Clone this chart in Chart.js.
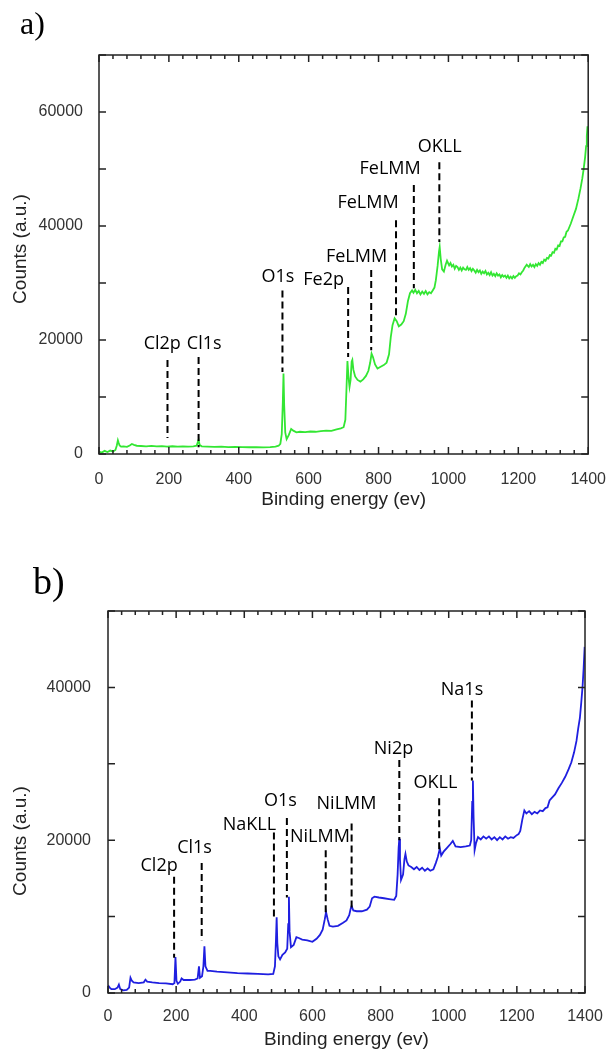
<!DOCTYPE html>
<html>
<head>
<meta charset="utf-8">
<script src="https://cdn.jsdelivr.net/npm/chart.js@4.4.0/dist/chart.umd.min.js"></script>
<style>
  html, body { margin: 0; padding: 0; background: #fff; }
  #wrap { width: 614px; height: 1054px; }
  canvas { display: block; }
</style>
</head>
<body>
<div id="wrap">
  <canvas id="chartA" width="614" height="530"></canvas>
  <canvas id="chartB" width="614" height="524"></canvas>
</div>
<script>
// ===== Spectrum a) =====
const energyA = [
  0, 8, 16, 24, 32, 40, 47, 51, 54, 56,
  59, 63, 70, 80, 88, 94, 100, 108, 120, 135,
  150, 165, 180, 195, 210, 225, 240, 255, 270, 279,
  282, 285, 288, 294, 310, 330, 350, 370, 390, 410,
  430, 450, 470, 490, 505, 514, 519, 523, 526, 528,
  530, 533, 537, 543, 550, 556, 565, 575, 590, 605,
  620, 635, 650, 665, 680, 692, 700, 705, 708, 711,
  714, 717, 720, 723, 725, 728, 733, 740, 748, 756,
  764, 771, 776, 780, 784, 790, 797, 806, 815, 823,
  830, 835, 840, 846, 852, 858, 865, 872, 878, 884,
  890, 896, 900, 905, 910, 915, 920, 925, 930, 935,
  940, 945, 950, 955, 960, 964, 969, 973, 975, 978,
  982, 987, 992, 996, 1002, 1006, 1010, 1014, 1018, 1022,
  1026, 1030, 1034, 1038, 1042, 1046, 1050, 1054, 1058, 1062,
  1066, 1070, 1074, 1078, 1082, 1086, 1090, 1094, 1098, 1102,
  1106, 1110, 1114, 1118, 1122, 1126, 1130, 1134, 1138, 1142,
  1146, 1150, 1154, 1158, 1162, 1166, 1170, 1174, 1178, 1182,
  1186, 1190, 1194, 1198, 1202, 1206, 1210, 1214, 1218, 1224,
  1230, 1234, 1238, 1242, 1246, 1250, 1254, 1258, 1262, 1266,
  1270, 1274, 1278, 1282, 1286, 1290, 1294, 1298, 1302, 1306,
  1310, 1314, 1318, 1322, 1326, 1330, 1334, 1338, 1342, 1350,
  1358, 1365, 1372, 1378, 1383, 1387, 1391, 1394, 1396, 1398
];
const countsA = [
  400, 250, 550, 350, 600, 450, 700, 1500, 2400, 2000,
  1500, 1300, 1350, 1250, 1500, 1750, 1600, 1450, 1400, 1350,
  1420, 1330, 1380, 1300, 1360, 1300, 1340, 1280, 1330, 1450,
  1900, 2500, 1600, 1350, 1300, 1260, 1290, 1220, 1250, 1200,
  1180, 1210, 1150, 1200, 1300, 1450, 1800, 3500, 9000, 14100,
  8500, 3800, 2600, 3300, 4400, 4100, 3800, 3900, 3850, 3950,
  3900, 4000, 4100, 4050, 4300, 4500, 4700, 6000, 11000, 16300,
  13500, 11800, 13000, 16200, 16500, 14800, 13600, 13000, 12700, 13100,
  13700, 14600, 16000, 17600, 17000, 15700, 15000, 15300, 15600, 16000,
  17500, 20500, 22600, 23800, 23300, 22400, 22700, 23300, 24600, 26800,
  28200, 28700, 28300, 28800, 28200, 28600, 28000, 28500, 28100, 28600,
  28000, 28400, 28200, 28700, 29200, 30500, 33000, 35500, 36300, 34200,
  32400, 32000, 33200, 33900, 33100, 33500, 32900, 33200, 32500, 33000,
  32800, 32300, 32700, 32200, 32700, 32400, 32300, 32800, 32300, 32600,
  32100, 32500, 32200, 31800, 32300, 31900, 32200, 31600, 32000, 31700,
  32100, 31500, 31800, 31400, 31900, 31300, 31600, 31200, 31700, 31300,
  31500, 31000, 31400, 31100, 31300, 30900, 31300, 30800, 31100, 30800,
  31200, 30900, 31200, 31300, 31700, 31500, 31900, 32200, 32700, 33200,
  32800, 33300, 32900, 33200, 32800, 33300, 33000, 33500, 33200, 33700,
  33500, 34100, 33900, 34400, 34300, 34900, 34800, 35400, 35300, 36000,
  35900, 36600, 36500, 37300, 37300, 38000, 38100, 39000, 39200, 40400,
  41800, 43000, 44800, 46600, 48300, 50000, 52000, 54000, 55800, 57500
];
const peakNamesA = ['Cl2p', 'Cl1s', 'O1s', 'Fe2p', 'FeLMM', 'FeLMM', 'FeLMM', 'OKLL'];
const peakEnergyA = [196, 285, 525, 713, 779, 850, 901, 974];
const labelEnergyA = [181, 301, 512, 643, 737, 770, 833, 975];
const labelCountsA = [19300, 19300, 31000, 30500, 34500, 44000, 50100, 53800];
const lineTopA = [16500, 17000, 28700, 29300, 32300, 41000, 47200, 51200];
const lineBottomA = [2800, 1200, 14400, 17000, 18200, 23800, 29100, 37200];

// ===== Spectrum b) =====
const energyB = [
  0, 5, 10, 20, 28, 32, 36, 45, 55, 62,
  66, 70, 75, 90, 105, 110, 115, 130, 150, 170,
  190, 195, 198, 201, 205, 212, 216, 222, 240, 255,
  263, 267, 270, 276, 280, 283, 286, 292, 300, 320,
  350, 380, 410, 440, 470, 485, 490, 493, 495, 497,
  500, 505, 512, 520, 526, 529, 531, 533, 537, 545,
  553, 560, 570, 585, 600, 612, 622, 630, 636, 640,
  645, 650, 660, 675, 690, 700, 708, 712, 715, 720,
  730, 745, 760, 768, 775, 782, 795, 810, 825, 840,
  846, 850, 853, 855, 857, 860, 866, 870, 873, 877,
  882, 890, 898, 906, 914, 922, 930, 938, 946, 955,
  962, 968, 974, 978, 985, 995, 1005, 1012, 1020, 1035,
  1050, 1062, 1066, 1069, 1071, 1073, 1076, 1080, 1086, 1094,
  1102, 1110, 1118, 1126, 1134, 1142, 1150, 1158, 1166, 1174,
  1182, 1190, 1198, 1205, 1210, 1216, 1222, 1228, 1236, 1244,
  1252, 1260, 1268, 1276, 1284, 1290, 1296, 1302, 1312, 1322,
  1332, 1342, 1352, 1360, 1368, 1375, 1380, 1385, 1389, 1393,
  1396, 1399
];
const countsB = [
  1000, 700, 500, 500, 700, 1100, 500, 350, 400, 700,
  2000, 1600, 1400, 1300, 1400, 1750, 1500, 1400, 1300, 1250,
  1150, 1300, 4700, 1600, 1200, 1500, 1900, 1700, 1700, 1750,
  1900, 3500, 2000, 2200, 3500, 6100, 3500, 2900, 2900, 2800,
  2700, 2600, 2550, 2500, 2450, 2500, 3500, 7000, 9900, 6500,
  4800, 4400, 5000, 5300, 5800, 9000, 12600, 8000, 6000, 6300,
  7300, 7200, 7000, 6900, 6700, 7100, 7600, 8300, 9600, 10600,
  9600, 8800, 8700, 8800, 9200, 9500, 10200, 11000, 11400, 10800,
  10700, 10700, 10900, 11300, 12400, 12600, 12500, 12400, 12300, 12200,
  12700, 15500, 19000, 20200, 17500, 14800, 15500, 17500, 18200, 17200,
  16700, 16500, 16200, 16500, 16100, 16400, 16000, 16300, 16000, 16200,
  17000, 17800, 18900, 18000, 18500, 19000, 19500, 19900, 19200, 19100,
  19200, 19300, 20000, 25000, 27800, 23000, 18700, 19600, 20400, 20100,
  20500, 20200, 20500, 20100, 20400, 20000, 20400, 20100, 20500, 20200,
  20400, 20300, 20600, 20800, 21200, 22700, 23900, 23500, 23800, 23400,
  23700, 23500, 23900, 23800, 24200, 24300, 25200, 25500, 26000, 26800,
  27500, 28300, 29300, 30200, 31500, 33000, 34600, 36000, 38000, 40200,
  42500, 45300
];
const peakNamesB = ['Cl2p', 'Cl1s', 'NaKLL', 'O1s', 'NiLMM', 'NiLMM', 'Ni2p', 'OKLL', 'Na1s'];
const peakEnergyB = [194, 275, 487, 525, 639, 715, 855, 972, 1068];
const labelEnergyB = [150, 254, 415, 506, 622, 700, 838, 961, 1039];
const labelCountsB = [16600, 19000, 22000, 25200, 20400, 24800, 32000, 27500, 39700];
const lineTopB = [15200, 17000, 21000, 22900, 18700, 22200, 30500, 25500, 38300];
const lineBottomB = [4600, 6900, 9900, 12500, 10500, 11200, 20000, 18700, 27800];

const xTicks = [0, 200, 400, 600, 800, 1000, 1200, 1400];

// ===== Frame, inward ticks, y title, panel letter, peak markers =====
const xpsDecor = {
  id: 'xpsDecor',
  afterDatasetsDraw(chart, args, opts) {
    const { ctx, chartArea: a, scales: { x, y } } = chart;
    ctx.save();

    // peak markers
    ctx.strokeStyle = '#000';
    ctx.lineWidth = 2;
    ctx.setLineDash([7, 4]);
    opts.energy.forEach((e, i) => {
      const px = x.getPixelForValue(e);
      ctx.beginPath();
      ctx.moveTo(px, y.getPixelForValue(opts.top[i]));
      ctx.lineTo(px, y.getPixelForValue(opts.bottom[i]));
      ctx.stroke();
    });
    ctx.setLineDash([]);
    ctx.fillStyle = '#000';
    ctx.font = '18px "Open Sans"';
    ctx.textAlign = 'center';
    ctx.textBaseline = 'middle';
    opts.names.forEach((n, i) => {
      ctx.fillText(n, x.getPixelForValue(opts.labelX[i]), y.getPixelForValue(opts.labelY[i]));
    });

    // frame + inward ticks on all sides
    ctx.strokeStyle = '#222';
    ctx.lineWidth = 1.5;
    ctx.strokeRect(a.left, a.top, a.right - a.left, a.bottom - a.top);
    ctx.beginPath();
    for (let v = 0; v <= x.max; v += 40) {
      const px = x.getPixelForValue(v);
      const len = v % 200 === 0 ? 7 : 4;
      ctx.moveTo(px, a.bottom); ctx.lineTo(px, a.bottom - len);
      ctx.moveTo(px, a.top); ctx.lineTo(px, a.top + len);
    }
    for (let v = 0; v <= y.max; v += 10000) {
      const py = y.getPixelForValue(v);
      ctx.moveTo(a.left, py); ctx.lineTo(a.left + 7, py);
      ctx.moveTo(a.right, py); ctx.lineTo(a.right - 7, py);
    }
    ctx.stroke();

    // y title
    ctx.save();
    ctx.translate(opts.yTitleX, opts.yTitleY);
    ctx.rotate(-Math.PI / 2);
    ctx.fillStyle = '#222';
    ctx.font = '19px "Liberation Sans"';
    ctx.fillText('Counts (a.u.)', 0, 0);
    ctx.restore();

    // panel letter
    ctx.fillStyle = '#000';
    ctx.textAlign = 'left';
    ctx.textBaseline = 'alphabetic';
    ctx.font = opts.panelFont;
    ctx.fillText(opts.panel, opts.panelX, opts.panelY);
    ctx.restore();
  }
};

function makeChart(id, cfg) {
  const ctx = document.getElementById(id).getContext('2d');
  return new Chart(ctx, {
    type: 'line',
    data: {
      datasets: [{
        data: cfg.energy.map((e, i) => ({ x: e, y: cfg.counts[i] })),
        borderColor: cfg.color,
        borderWidth: 1.8,
        pointRadius: 0,
        tension: 0
      }]
    },
    options: {
      responsive: false,
      animation: false,
      devicePixelRatio: 1,
      layout: { padding: cfg.padding },
      plugins: {
        legend: { display: false },
        tooltip: { enabled: false },
        xpsDecor: cfg.decor
      },
      scales: {
        x: {
          type: 'linear', min: 0, max: 1400,
          afterBuildTicks: s => { s.ticks = xTicks.map(v => ({ value: v })); },
          ticks: {
            color: '#333', padding: cfg.xPad, maxRotation: 0,
            font: { family: 'Liberation Sans', size: 16 },
            callback: v => String(v)
          },
          grid: { display: false },
          border: { display: false },
          title: {
            display: true, text: 'Binding energy (ev)', color: '#222',
            font: { family: 'Liberation Sans', size: 19 },
            padding: { top: 0, bottom: cfg.titlePad }
          },
          afterFit: s => { s.height = cfg.xHeight; }
        },
        y: {
          type: 'linear', min: 0, max: cfg.yMax,
          afterBuildTicks: s => { s.ticks = cfg.yTicks.map(v => ({ value: v })); },
          ticks: {
            color: '#333', padding: cfg.yPad,
            font: { family: 'Liberation Sans', size: 16 },
            callback: v => String(v)
          },
          grid: { display: false },
          border: { display: false },
          afterFit: s => { s.width = cfg.yWidth; }
        }
      }
    },
    plugins: [xpsDecor]
  });
}

makeChart('chartA', {
  energy: energyA, counts: countsA, color: '#33e633',
  padding: { top: 55, right: 19, left: 0, bottom: 0 },
  yMax: 70000, yTicks: [0, 20000, 40000, 60000],
  xHeight: 76, yWidth: 99, xPad: 8, yPad: 8, titlePad: 19,
  decor: {
    names: peakNamesA, energy: peakEnergyA, labelX: labelEnergyA, labelY: labelCountsA,
    top: lineTopA, bottom: lineBottomA,
    yTitleX: 21, yTitleY: 249,
    panel: 'a)', panelX: 20, panelY: 34, panelFont: '32px "Liberation Serif"'
  }
});

makeChart('chartB', {
  energy: energyB, counts: countsB, color: '#1f1fe0',
  padding: { top: 81, right: 29, left: 0, bottom: 0 },
  yMax: 50000, yTicks: [0, 20000, 40000],
  xHeight: 61, yWidth: 108, xPad: 6, yPad: 9, titlePad: 3,
  decor: {
    names: peakNamesB, energy: peakEnergyB, labelX: labelEnergyB, labelY: labelCountsB,
    top: lineTopB, bottom: lineBottomB,
    yTitleX: 21, yTitleY: 311,
    panel: 'b)', panelX: 33, panelY: 64, panelFont: '38px "Liberation Serif"'
  }
});
</script>
</body>
</html>
